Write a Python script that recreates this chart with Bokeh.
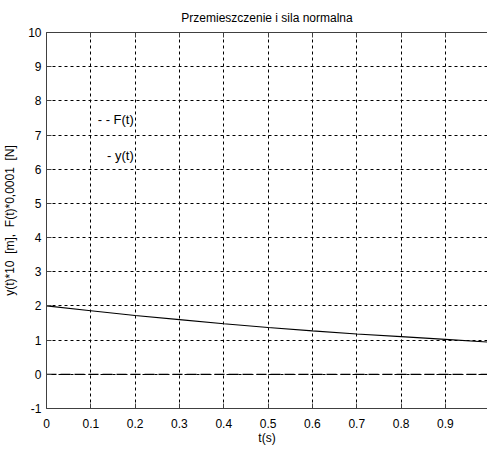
from bokeh.plotting import figure
from bokeh.models import LinearAxis, FixedTicker, Range1d, Label, ColumnDataSource
from bokeh.embed import file_html
from bokeh.resources import INLINE

# data
t = [0.0, 0.1, 0.2, 0.3, 0.4, 0.5, 0.6, 0.7, 0.8, 0.9, 1.0]
y_vals = [2.00, 1.86, 1.72, 1.60, 1.48, 1.37, 1.27, 1.18, 1.10, 1.02, 0.94]
f_vals = [0.0, 0.0, 0.0, 0.0, 0.0, 0.0, 0.0, 0.0, 0.0, 0.0, 0.0]
x_ticks = [0.0, 0.1, 0.2, 0.3, 0.4, 0.5, 0.6, 0.7, 0.8, 0.9]
x_tick_labels = ["0", "0.1", "0.2", "0.3", "0.4", "0.5", "0.6", "0.7", "0.8", "0.9"]
y_ticks = [-1, 0, 1, 2, 3, 4, 5, 6, 7, 8, 9, 10]
y_tick_labels = ["-1", "0", "1", "2", "3", "4", "5", "6", "7", "8", "9", "10"]
legend_labels = ["- - F(t)", "- y(t)"]

FONT = "Liberation Sans"
AX = "#404040"

p = figure(frame_width=441, frame_height=376, output_backend="svg", toolbar_location=None,
           x_range=Range1d(0, 0.995), y_range=Range1d(-1, 10),
           min_border_left=40, min_border_right=0, min_border_top=24,
           min_border_bottom=30, x_axis_location=None, y_axis_location=None,
           title="Przemieszczenie i sila normalna")
p.outline_line_color = None
p.background_fill_color = "white"
p.border_fill_color = "white"
p.title.align = "center"
p.title.text_font = FONT
p.title.text_font_style = "normal"
p.title.text_font_size = "12px"
p.title.text_color = "#000000"
p.title.standoff = 16

def style(ax, ticks, labels, show_labels=True):
    ax.ticker = FixedTicker(ticks=ticks)
    ax.major_label_overrides = {tk: lb for tk, lb in zip(ticks, labels)}
    ax.axis_line_color = AX
    ax.major_tick_line_color = AX
    ax.major_tick_in = 5
    ax.major_tick_out = 0
    ax.minor_tick_line_color = None
    ax.major_label_text_font = FONT
    ax.major_label_text_font_size = "12px"
    ax.major_label_text_color = "#000000"
    ax.axis_label_text_font = FONT
    ax.axis_label_text_font_size = "12px"
    ax.axis_label_text_font_style = "normal"
    ax.axis_label_text_color = "#000000"
    if not show_labels:
        ax.major_label_text_alpha = 0
        ax.major_label_text_font_size = "1px"
        ax.major_label_standoff = 0

xb = LinearAxis(axis_label="t(s)")
style(xb, x_ticks, x_tick_labels)
xb.major_label_standoff = 10
xb.axis_label_standoff = 0
p.add_layout(xb, "below")

xt = LinearAxis()
style(xt, x_ticks, x_tick_labels, show_labels=False)
p.add_layout(xt, "above")

NB = "\u00a0"
yl = LinearAxis(axis_label="y(t)*10" + NB * 2 + "[m]," + NB * 2 + "F(t)*0,0001" + NB * 2 + "[N]")
style(yl, y_ticks, y_tick_labels)
yl.major_label_standoff = 5
yl.axis_label_standoff = 8
p.add_layout(yl, "left")

p.xgrid.ticker = FixedTicker(ticks=x_ticks)
p.ygrid.ticker = FixedTicker(ticks=y_ticks)
for g in (p.xgrid, p.ygrid):
    g.grid_line_color = "black"
    g.grid_line_dash = "3 3"
    g.grid_line_width = 1

src = ColumnDataSource(dict(t=t, y=y_vals, f=f_vals))
p.line("t", "f", source=src, line_color="black", line_width=1.2, line_dash="10 4")
p.line("t", "y", source=src, line_color="black", line_width=1.2)

for lbl, yy in zip(legend_labels, [7.45, 6.4]):
    p.add_layout(Label(x=0.197, y=yy, text=lbl, text_align="right", text_baseline="middle",
                       text_font=FONT, text_font_size="13px", text_color="#000000"))

open("out.html", "w").write(file_html(p, INLINE))
